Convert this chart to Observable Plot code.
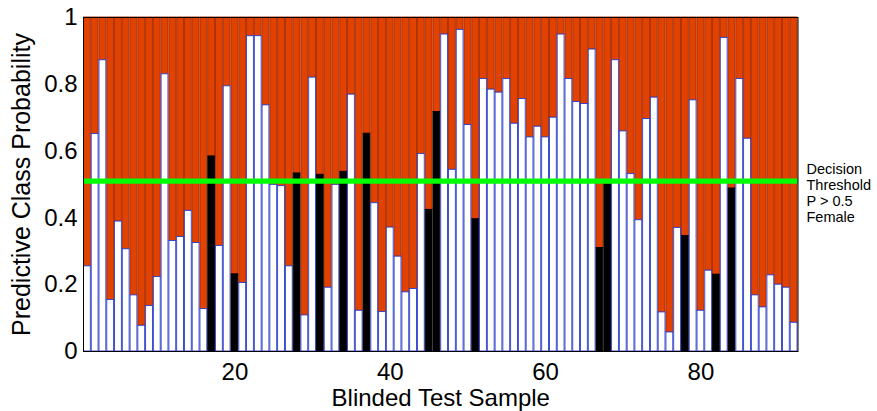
<!DOCTYPE html>
<html>
<head>
<meta charset="utf-8">
<script src="https://cdn.jsdelivr.net/npm/d3@7"></script>
<script src="https://cdn.jsdelivr.net/npm/@observablehq/plot@0.6"></script>
<style>
  html, body { margin: 0; padding: 0; background: #fff; }
  #chart svg { display: block; }
</style>
</head>
<body>
<div id="chart"></div>
<script>
// Predicted probability (lower segment) for each blinded test sample 1..92
const probabilities = [
  0.255,0.651,0.872,0.154,0.389,0.306,0.168,0.077,0.136,0.223,
  0.830,0.331,0.343,0.421,0.325,0.127,0.584,0.316,0.794,0.231,
  0.205,0.944,0.944,0.737,0.499,0.495,0.255,0.533,0.108,0.820,
  0.529,0.191,0.499,0.538,0.769,0.122,0.652,0.444,0.118,0.371,
  0.284,0.177,0.187,0.591,0.424,0.717,0.949,0.544,0.963,0.678,
  0.396,0.816,0.784,0.775,0.816,0.682,0.756,0.641,0.673,0.641,
  0.700,0.949,0.816,0.747,0.741,0.904,0.310,0.500,0.872,0.659,
  0.531,0.393,0.696,0.760,0.117,0.057,0.370,0.346,0.752,0.122,
  0.242,0.230,0.939,0.488,0.816,0.637,0.168,0.132,0.228,0.200,
  0.191,0.086
];
const samples = probabilities.map((_, i) => i + 1);
// Samples whose lower segment is drawn black
const blackSamples = [17,20,28,31,34,37,45,46,51,67,68,78,82,84];
const xTicks = [20, 40, 60, 80];
const yTicks = [0, 0.2, 0.4, 0.6, 0.8, 1];
const yTickLabels = ["0", "0.2", "0.4", "0.6", "0.8", "1"];
const thresholdLine = 0.51;
const annotation = "Decision\nThreshold\nP > 0.5\nFemale";
const xLabel = "Blinded Test Sample";
const yLabel = "Predictive Class Probability";

const rows = samples.map((s, i) => ({
  s, p: probabilities[i], black: blackSamples.includes(s)
}));
const half = 0.44;
const font = "'Liberation Sans', Arial, Helvetica, sans-serif";

const chart = Plot.plot({
  width: 877,
  height: 411,
  marginLeft: 83,
  marginRight: 79.5,
  marginTop: 17,
  marginBottom: 60,
  style: { fontFamily: font, background: "#fff", color: "#000", overflow: "visible" },
  x: { domain: [0.5, 92.5], axis: null },
  y: { domain: [0, 1], axis: null },
  marks: [
    // upper (orange) segments
    Plot.rect(rows, {
      x1: d => d.s - half, x2: d => d.s + half, y1: d => d.p, y2: 1,
      fill: "#e24200", stroke: "#a82800", strokeWidth: 0.9
    }),
    // lower segments
    Plot.rect(rows, {
      x1: d => d.s - half, x2: d => d.s + half, y1: 0, y2: d => d.p,
      fill: d => d.black ? "#000" : "#fff",
      stroke: d => d.black ? "#000" : "#2a3ccc", strokeWidth: 0.9
    }),
    Plot.ruleY([thresholdLine], { stroke: "#00ff00", strokeWidth: 5.3 }),
    Plot.frame({ stroke: "#000", strokeWidth: 1 }),
    Plot.axisX({
      ticks: xTicks, tickSize: 0, tickPadding: 11, fontSize: 24,
      label: null, tickFormat: d => String(d)
    }),
    Plot.axisY({
      ticks: yTicks, tickSize: 0, tickPadding: 6, fontSize: 24,
      label: null, tickFormat: (d, i) => yTickLabels[i]
    }),
    Plot.text([xLabel], {
      frameAnchor: "bottom", textAnchor: "middle", lineAnchor: "top", dy: 37, fontSize: 24, fill: "#000"
    }),
    Plot.text([yLabel], {
      frameAnchor: "left", textAnchor: "middle", rotate: -90, dx: -62, fontSize: 25, fill: "#000"
    }),
    Plot.text([annotation], {
      frameAnchor: "right", textAnchor: "start", lineAnchor: "top",
      y: () => thresholdLine, dx: 8.5, dy: -18.5, fontSize: 14.5, lineHeight: 1.1, fill: "#000"
    })
  ]
});
document.getElementById("chart").appendChild(chart);
</script>
</body>
</html>
